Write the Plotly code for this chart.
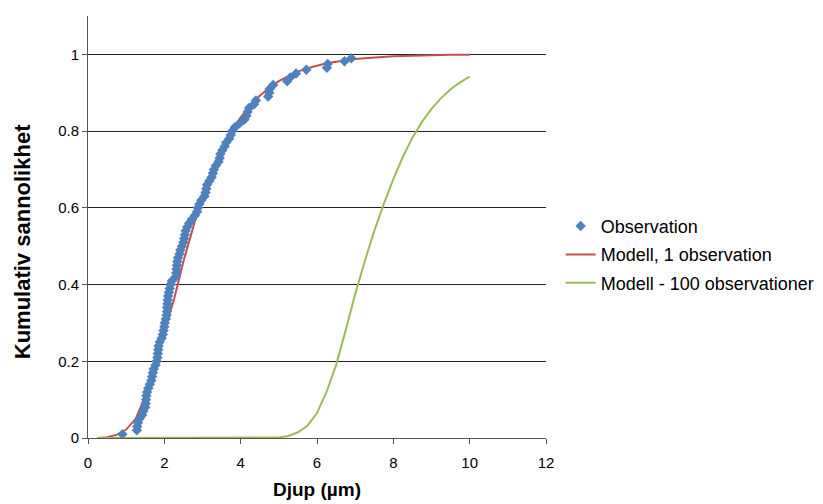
import plotly.graph_objects as go

# Observations (depth in µm, cumulative probability)
obs_x = [0.9, 1.28, 1.29, 1.31, 1.35, 1.42, 1.45, 1.5, 1.51, 1.52,
         1.53, 1.55, 1.58, 1.62, 1.66, 1.68, 1.7, 1.72, 1.77, 1.8,
         1.82, 1.83, 1.84, 1.85, 1.88, 1.93, 1.96, 1.98, 2.0, 2.01,
         2.04, 2.06, 2.07, 2.07, 2.08, 2.09, 2.1, 2.12, 2.14, 2.16,
         2.2, 2.3, 2.31, 2.32, 2.33, 2.34, 2.36, 2.4, 2.42, 2.46,
         2.5, 2.52, 2.54, 2.56, 2.6, 2.65, 2.72, 2.8, 2.86, 2.88,
         2.92, 2.97, 3.05, 3.08, 3.1, 3.12, 3.18, 3.24, 3.27, 3.3,
         3.35, 3.42, 3.45, 3.47, 3.52, 3.58, 3.62, 3.7, 3.74, 3.78,
         3.85, 3.97, 4.1, 4.15, 4.18, 4.22, 4.35, 4.4, 4.72, 4.75,
         4.76, 4.85, 5.22, 5.3, 5.45, 5.72, 6.26, 6.28, 6.72, 6.9]
obs_y = [0.01, 0.02, 0.03, 0.04, 0.05, 0.06, 0.07, 0.08, 0.09, 0.10,
         0.11, 0.12, 0.13, 0.14, 0.15, 0.16, 0.17, 0.18, 0.19, 0.20,
         0.21, 0.22, 0.23, 0.24, 0.25, 0.26, 0.27, 0.28, 0.29, 0.30,
         0.31, 0.32, 0.33, 0.34, 0.35, 0.36, 0.37, 0.38, 0.39, 0.40,
         0.41, 0.42, 0.43, 0.44, 0.45, 0.46, 0.47, 0.48, 0.49, 0.50,
         0.51, 0.52, 0.53, 0.54, 0.55, 0.56, 0.57, 0.58, 0.59, 0.60,
         0.61, 0.62, 0.63, 0.64, 0.65, 0.66, 0.67, 0.68, 0.69, 0.70,
         0.71, 0.72, 0.73, 0.74, 0.75, 0.76, 0.77, 0.78, 0.79, 0.80,
         0.81, 0.82, 0.83, 0.84, 0.85, 0.86, 0.87, 0.88, 0.89, 0.90,
         0.91, 0.92, 0.93, 0.94, 0.95, 0.96, 0.965, 0.975, 0.982, 0.99]

# Model curves
model_x = [0.25, 0.5, 0.75, 1.0, 1.25, 1.5, 1.75, 2.0, 2.25, 2.5,
           2.75, 3.0, 3.25, 3.5, 3.75, 4.0, 4.25, 4.5, 4.75, 5.0,
           5.25, 5.5, 5.75, 6.0, 6.25, 6.5, 6.75, 7.0, 7.25, 7.5,
           7.75, 8.0, 8.25, 8.5, 8.75, 9.0, 9.25, 9.5, 9.75, 10.0]
model1_y = [0.0, 0.002, 0.008, 0.022, 0.05, 0.11, 0.20, 0.28, 0.36, 0.46,
            0.55, 0.635, 0.70, 0.754, 0.798, 0.836, 0.866, 0.892, 0.913, 0.930,
            0.943, 0.955, 0.964, 0.971, 0.977, 0.981, 0.985, 0.988, 0.990, 0.992,
            0.994, 0.995, 0.996, 0.997, 0.9975, 0.998, 0.9985, 0.9988, 0.999, 0.9992]
model100_y = [0.0, 0.0, 0.0, 0.0, 0.0, 0.0, 0.0, 0.0, 0.0, 0.0,
              0.0, 0.0, 0.0, 0.0, 0.0, 0.0, 0.0, 0.0, 0.0002, 0.0014,
              0.0054, 0.015, 0.032, 0.065, 0.12, 0.19, 0.28, 0.375, 0.46, 0.54,
              0.61, 0.675, 0.733, 0.783, 0.824, 0.858, 0.886, 0.909, 0.927, 0.942]

x_ticks = [0, 2, 4, 6, 8, 10, 12]
y_ticks = [0, 0.2, 0.4, 0.6, 0.8, 1]
y_tick_labels = ["0", "0.2", "0.4", "0.6", "0.8", "1"]

fig = go.Figure()
fig.add_trace(go.Scatter(
    x=model_x, y=model1_y, mode="lines", name="Modell, 1 observation",
    line=dict(color="#C0504D", width=2), legendgroup="b", legendrank=2))
fig.add_trace(go.Scatter(
    x=model_x, y=model100_y, mode="lines", name="Modell - 100 observationer",
    line=dict(color="#9BBB59", width=2), legendgroup="c", legendrank=3))
fig.add_trace(go.Scatter(
    x=obs_x, y=obs_y, mode="markers", name="Observation",
    marker=dict(symbol="diamond", size=8, color="#4F81BD"),
    legendgroup="a", legendrank=1))

font_family = "Liberation Sans, Arial, sans-serif"
fig.update_layout(
    width=823, height=504,
    margin=dict(l=88, r=277, t=16, b=66, autoexpand=False),
    paper_bgcolor="white", plot_bgcolor="white",
    font=dict(family=font_family, size=14, color="black"),
    showlegend=True,
    legend=dict(x=1.032, y=0.434, xanchor="left", yanchor="middle",
                traceorder="grouped", tracegroupgap=2,
                font=dict(size=18, family=font_family, color="black"),
                bgcolor="rgba(0,0,0,0)"),
    xaxis=dict(range=[0, 12], tickvals=x_ticks, showgrid=False,
               showline=True, linecolor="#555555", linewidth=1,
               ticks="outside", ticklen=5, tickcolor="#555555",
               zeroline=False, tickfont=dict(size=15), ticklabelstandoff=6,
               automargin=False,
               title=dict(text="<b>Djup (µm)</b>", font=dict(size=19), standoff=12)),
    yaxis=dict(range=[0, 1.1], tickvals=y_ticks, ticktext=y_tick_labels,
               showgrid=True, gridcolor="#222222", gridwidth=1,
               showline=True, linecolor="#555555", linewidth=1,
               ticks="outside", ticklen=5, tickcolor="#555555",
               zeroline=False, tickfont=dict(size=15), automargin=False),
    annotations=[dict(text="<b>Kumulativ sannolikhet</b>", textangle=-90,
                      xref="paper", yref="paper", x=-0.144, y=0.464,
                      xanchor="center", yanchor="middle", showarrow=False,
                      font=dict(size=22, family=font_family, color="black"))],
)

fig.write_html("out.html")
